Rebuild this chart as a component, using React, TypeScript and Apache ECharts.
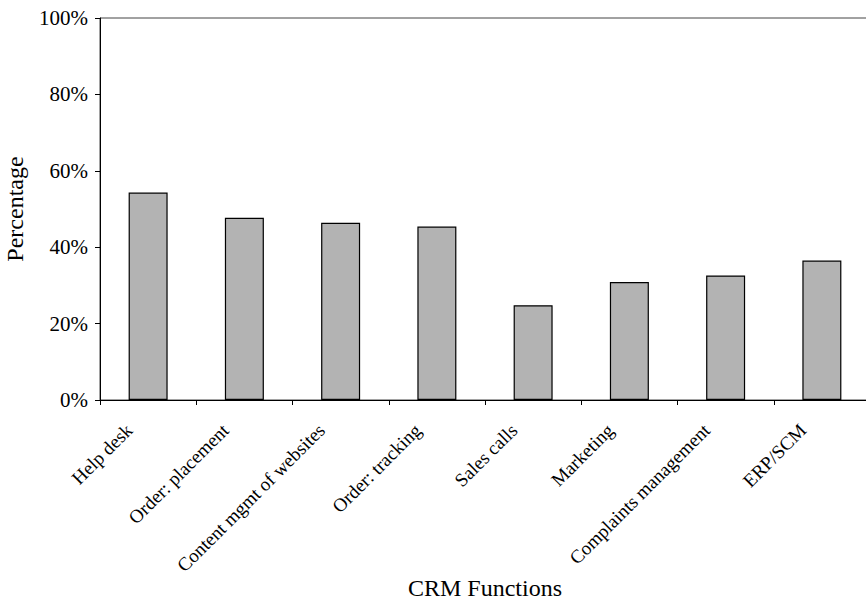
import React, { useEffect, useRef } from "react";
import * as echarts from "echarts";

const categories = [
  "Help desk",
  "Order: placement",
  "Content mgmt of websites",
  "Order: tracking",
  "Sales calls",
  "Marketing",
  "Complaints management",
  "ERP/SCM",
];

// Share of respondents using each CRM function (%)
const percentages = [54.3, 47.7, 46.4, 45.4, 24.8, 30.9, 32.6, 36.5];

const yTicks = [0, 20, 40, 60, 80, 100];

const FONT = "'Liberation Serif', 'Times New Roman', serif";

export default function App() {
  const ref = useRef<HTMLDivElement>(null);

  useEffect(() => {
    if (!ref.current) return;
    const chart = echarts.init(ref.current, null, { renderer: "svg" });
    chart.setOption({
      animation: false,
      backgroundColor: "#ffffff",
      textStyle: { fontFamily: FONT, color: "#000" },
      grid: {
        left: 100,
        right: -4,
        top: 18,
        bottom: 200,
        containLabel: false,
        outerBoundsMode: "none",
        show: true,
        borderColor: "#444",
        borderWidth: 1,
        backgroundColor: "transparent",
      },
      xAxis: {
        type: "category",
        data: categories,
        name: "CRM Functions",
        nameLocation: "middle",
        nameMoveOverlap: false,
        nameGap: 176,
        nameTextStyle: { fontFamily: FONT, fontSize: 24, color: "#000" },
        axisLine: { lineStyle: { color: "#000", width: 1 } },
        axisTick: { show: true, alignWithLabel: false, length: 5, lineStyle: { color: "#000" } },
        axisLabel: {
          rotate: 45,
          interval: 0,
          margin: 8,
          padding: [0, 27, 0, 0],
          fontFamily: FONT,
          fontSize: 19,
          color: "#000",
        },
      },
      yAxis: {
        type: "value",
        min: 0,
        max: 100,
        interval: 20,
        name: "Percentage",
        nameLocation: "middle",
        nameMoveOverlap: false,
        nameGap: 73,
        nameTextStyle: { fontFamily: FONT, fontSize: 24, color: "#000" },
        axisLine: { show: true, lineStyle: { color: "#000", width: 1 } },
        axisTick: { show: true, length: 5, lineStyle: { color: "#000" } },
        splitLine: { show: false },
        axisLabel: {
          margin: 12,
          fontFamily: FONT,
          fontSize: 21,
          color: "#000",
          formatter: (v: number) => (yTicks.includes(v) ? `${v}%` : ""),
        },
      },
      series: [
        {
          type: "bar",
          data: percentages,
          barWidth: 39,
          itemStyle: { color: "#b3b3b3", borderColor: "#000", borderWidth: 1.2 },
        },
      ],
    });
    return () => chart.dispose();
  }, []);

  return (
    <div
      ref={ref}
      style={{ position: "fixed", left: 0, top: 0, width: 866, height: 600 }}
    />
  );
}
